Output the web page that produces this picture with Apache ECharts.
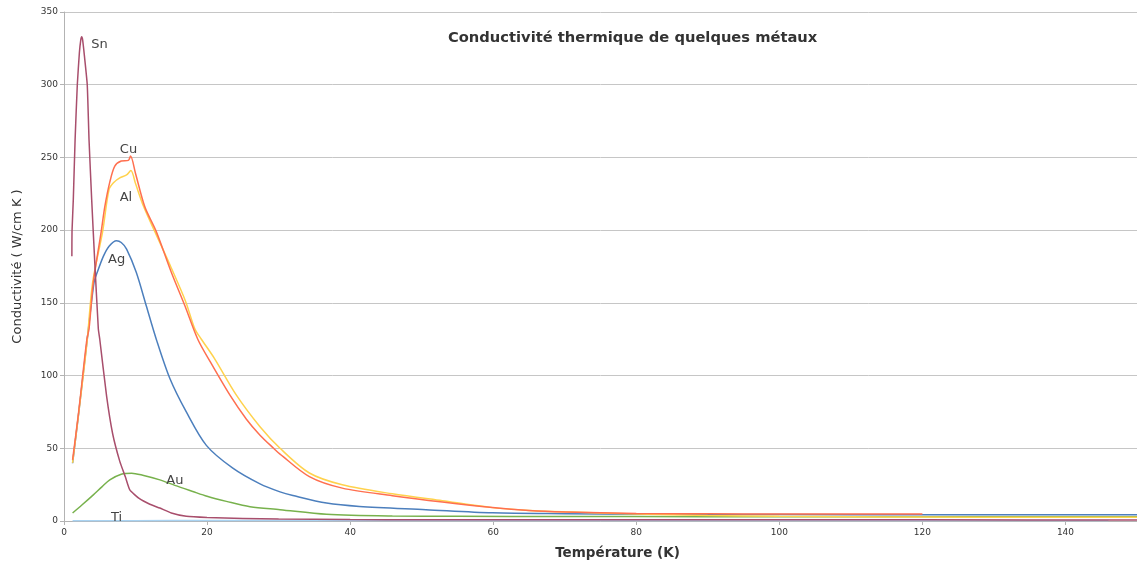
<!DOCTYPE html>
<html>
<head>
<meta charset="utf-8">
<script src="https://cdn.jsdelivr.net/npm/echarts@6/dist/echarts.min.js"></script>
<style>
  html, body { margin: 0; padding: 0; background: #ffffff; }
  #chart { width: 1137px; height: 565px; }
</style>
</head>
<body>
<div id="chart"></div>
<script>
// Thermal conductivity (W/cm K) versus temperature (K) for a few metals
const xTicks = [0, 20, 40, 60, 80, 100, 120, 140];
const yTicks = [0, 50, 100, 150, 200, 250, 300, 350];

const snT = [1.1, 1.12, 1.3, 1.55, 1.86, 2.15, 2.35, 2.47, 2.6, 2.85, 3.25, 3.5, 3.87, 4.3, 4.8, 5.0, 5.95, 6.8, 7.8, 8.6, 9.2, 10.5, 12, 13.4, 15, 17.1, 20, 25, 30, 40, 50, 60, 80, 100, 120, 150];
const snK = [182, 199, 221, 262, 300, 322, 331, 333, 331, 320, 300, 262, 221, 178, 132, 125, 86, 60, 41, 30, 21.4, 15.5, 11.5, 8.9, 5.5, 3.2, 2.4, 1.8, 1.3, 1.0, 0.9, 0.8, 0.8, 0.8, 0.8, 0.7];

const cuT = [1.2, 2, 3.2, 3.5, 4.1, 5.2, 5.7, 6.4, 7.1, 8.0, 9.0, 9.3, 10, 11.3, 12.9, 15, 16.9, 18.7, 20.5, 23.2, 25.5, 27.4, 29.3, 30.2, 34.3, 38.9, 45.9, 52.9, 59.9, 65, 70, 80, 90, 100, 110, 120];
const cuK = [42, 73, 125, 132, 164, 199, 216, 233, 244, 247.5, 248, 251, 239, 216, 199, 171, 148, 125, 109, 86.5, 70, 59, 50, 46, 30.5, 22.6, 17.4, 13, 9.2, 7.2, 6.2, 5.2, 4.9, 4.8, 4.8, 4.8];

const alT = [1.2, 2, 3.2, 4.0, 5.4, 6.3, 7.0, 7.8, 8.75, 9.35, 10, 11.1, 12.7, 15, 17, 18.3, 19.2, 21, 24.1, 27.4, 30.2, 34.3, 38.9, 45.9, 52.9, 59.9, 65, 70, 80, 90, 100, 110, 120, 135, 150];
const alK = [40, 72, 122, 164, 199, 228, 233, 236, 238, 241, 232, 216.6, 199, 174, 151, 132, 125, 112, 86.5, 64.8, 50, 33, 24.9, 18.7, 13.9, 9.2, 7.3, 6.3, 4.8, 3.8, 3.2, 2.9, 2.7, 2.5, 2.5];

const agT = [1.2, 2, 3.25, 4.2, 4.65, 5.5, 6.3, 7.35, 8.0, 8.75, 10.1, 11.5, 12.9, 14.8, 17.1, 19.9, 23.6, 27.4, 30.2, 32, 36.7, 41.3, 50.6, 59.9, 70, 80, 90, 100, 120, 150];
const agK = [39.7, 72, 125, 164, 171, 182, 189, 192.7, 191.5, 187, 171, 148, 125, 98, 75, 52, 36.3, 25.5, 20, 17.5, 12.3, 10, 7.8, 5.6, 5.0, 4.7, 4.5, 4.4, 4.3, 4.3];

const auT = [1.2, 2.5, 4.1, 5.3, 6.4, 8.0, 9.45, 11, 13.4, 15.5, 18, 20, 22.7, 26, 30.2, 36.7, 45.9, 55, 70, 90, 110, 130, 150];
const auK = [5.5, 11, 18, 23.5, 28.3, 32.2, 32.9, 31.5, 28.3, 24.5, 20.3, 17, 13.5, 9.8, 7.8, 4.6, 3.4, 3.2, 3.1, 3.0, 3.0, 3.0, 3.0];

const tiT = [1.2, 4, 7.2, 10, 20, 30, 50, 80, 100, 120, 146];
const tiK = [0.15, 0.2, 0.2, 0.25, 0.3, 0.35, 0.35, 0.35, 0.35, 0.35, 0.35];

const pairs = (t, k) => t.map((x, i) => [x, k[i]]);

const labelFont = { fontFamily: 'DejaVu Sans', fontSize: 13, color: '#444444' };

// One line series per metal, with its name written next to the point at labelIndex
function metal(name, t, k, color, labelIndex, labelPos, labelOffset, smooth) {
  const data = pairs(t, k);
  return {
    name: name,
    type: 'line',
    data: data,
    showSymbol: false,
    symbol: 'none',
    smooth: smooth,
    lineStyle: { color: color, width: 1.5 },
    itemStyle: { color: color },
    emphasis: { disabled: true },
    markPoint: {
      silent: true,
      symbol: 'circle',
      symbolSize: 1,
      itemStyle: { color: 'rgba(0,0,0,0)' },
      label: Object.assign({
        show: true,
        formatter: name,
        position: labelPos,
        offset: labelOffset,
        distance: 5
      }, labelFont),
      data: [{ coord: data[labelIndex] }]
    },
    z: 3
  };
}

const chart = echarts.init(document.getElementById('chart'), null, { renderer: 'canvas' });

chart.setOption({
  animation: false,
  backgroundColor: '#ffffff',
  title: {
    text: 'Conductivité thermique de quelques métaux',
    left: 443,
    top: 26,
    textStyle: { fontFamily: 'DejaVu Sans', fontSize: 14.7, fontWeight: 'bold', color: '#333333' }
  },
  grid: { left: 64, right: -1, top: 12, bottom: 42, containLabel: false },
  xAxis: {
    type: 'value',
    min: 0,
    max: 150,
    interval: 20,
    name: 'Température (K)',
    nameLocation: 'middle',
    nameGap: 25,
    nameTextStyle: { fontFamily: 'DejaVu Sans', fontSize: 13.5, fontWeight: 'bold', color: '#333333', padding: [0, 0, 0, 34] },
    axisLine: { show: true, lineStyle: { color: '#b3b3b3', width: 1 } },
    axisTick: { show: true, length: 4, lineStyle: { color: '#b3b3b3' } },
    axisLabel: {
      fontFamily: 'DejaVu Sans', fontSize: 9, color: '#333333', margin: 7,
      showMaxLabel: false,
      formatter: v => (xTicks.indexOf(v) >= 0 ? String(v) : '')
    },
    splitLine: { show: false }
  },
  yAxis: {
    type: 'value',
    min: 0,
    max: 350,
    interval: 50,
    name: 'Conductivité ( W/cm K )',
    nameLocation: 'middle',
    nameGap: 40,
    nameRotate: 90,
    nameTextStyle: { fontFamily: 'DejaVu Sans', fontSize: 13, color: '#333333' },
    axisLine: { show: true, lineStyle: { color: '#b3b3b3', width: 1 } },
    axisTick: { show: true, length: 4, lineStyle: { color: '#b3b3b3' } },
    axisLabel: {
      fontFamily: 'DejaVu Sans', fontSize: 9, color: '#333333', margin: 6,
      formatter: v => (yTicks.indexOf(v) >= 0 ? String(v) : '')
    },
    splitLine: { show: true, lineStyle: { color: '#c6c6c6', width: 1 } }
  },
  series: [
    metal('Ti', tiT, tiK, '#a9d3f2', 2, 'top', [1, 9], 0.2),
    metal('Au', auT, auK, '#77b14c', 9, 'top', [0, 7], 0.3),
    metal('Ag', agT, agK, '#4c7fbd', 7, 'bottom', [0, 7], 0.3),
    metal('Al', alT, alK, '#ffd24d', 9, 'bottom', [-5, 15], 0.3),
    metal('Cu', cuT, cuK, '#ff6f4f', 11, 'top', [-2, 6], 0.3),
    metal('Sn', snT, snK, '#a84e6c', 7, 'right', [4, 8], 0.15)
  ]
});
</script>
</body>
</html>
